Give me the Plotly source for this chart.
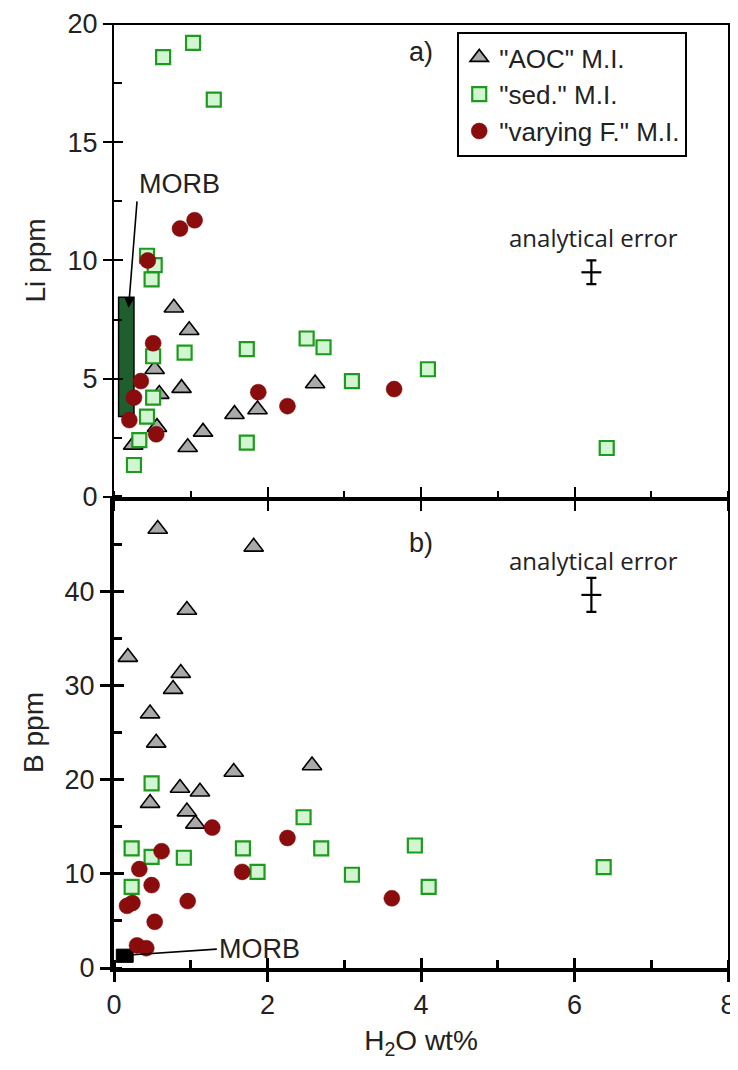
import plotly.graph_objects as go

# panel a) Li ppm vs H2O wt%
aoc_h2o_a = [0.78, 0.98, 0.53, 0.59, 0.88, 0.56, 0.25, 0.96, 1.16, 1.57, 1.87, 2.62]
aoc_li = [8.0, 7.05, 5.4, 4.35, 4.6, 2.95, 2.2, 2.1, 2.75, 3.5, 3.7, 4.8]
sed_h2o_a = [0.64, 1.03, 1.30, 0.43, 0.53, 0.49, 0.92, 0.51, 1.73, 2.51, 2.73, 0.51,
             0.43, 0.33, 0.26, 1.73, 3.10, 4.09, 6.42]
sed_li = [18.6, 19.2, 16.8, 10.2, 9.8, 9.2, 6.1, 5.95, 6.25, 6.7, 6.33, 4.2,
          3.4, 2.4, 1.35, 2.3, 4.9, 5.4, 2.07]
varf_h2o_a = [0.86, 1.05, 0.44, 0.51, 0.35, 0.26, 0.20, 0.55, 1.88, 2.26, 3.65]
varf_li = [11.35, 11.7, 10.0, 6.5, 4.9, 4.2, 3.25, 2.65, 4.43, 3.84, 4.56]

# panel b) B ppm vs H2O wt%
aoc_h2o_b = [0.57, 1.82, 0.95, 0.18, 0.87, 0.77, 0.47, 0.55, 1.56, 2.58, 0.86, 1.12,
             0.47, 0.95, 1.06]
aoc_b = [46.6, 44.7, 38.0, 33.0, 31.3, 29.6, 27.0, 23.9, 20.8, 21.5, 19.1, 18.7,
         17.5, 16.6, 15.3]
sed_h2o_b = [0.49, 0.23, 0.49, 0.91, 1.68, 1.87, 2.47, 2.70, 0.23, 3.10, 3.92, 4.10, 6.38]
sed_b = [19.6, 12.7, 11.8, 11.7, 12.7, 10.2, 16.0, 12.7, 8.6, 9.9, 13.0, 8.6, 10.7]
varf_h2o_b = [1.28, 2.26, 0.62, 0.33, 1.67, 0.49, 0.24, 0.17, 0.96, 0.53, 0.30, 0.42, 3.62]
varf_b = [14.9, 13.8, 12.4, 10.5, 10.2, 8.8, 6.9, 6.6, 7.1, 4.9, 2.4, 2.1, 7.4]

# MORB fields
morb_h2o_a = [0.06, 0.26]
morb_li = [3.4, 8.45]
morb_h2o_b = [0.03, 0.25]
morb_b = [0.6, 2.0]

# analytical error crosses
err_h2o = [6.22]
err_li = [9.5]
err_b = [39.6]
err_dx = 0.13
err_dli = 0.5
err_db = 1.8

font = "Liberation Sans, Arial, sans-serif"
ink = "#222"
aoc_style = dict(symbol="triangle-up", size=17, color="#a9a9a9", line=dict(color="black", width=1.6))
sed_style = dict(symbol="square", size=14, color="#d2f5d2", line=dict(color="#1e9a1e", width=2.2))
varf_style = dict(symbol="circle", size=16, color="#8a0c0c", line=dict(color="#7a0a0a", width=0.5))

fig = go.Figure()

fig.add_trace(go.Scatter(x=aoc_h2o_a, y=aoc_li, mode="markers", marker=aoc_style,
                         name='"AOC" M.I.', xaxis="x", yaxis="y"))
fig.add_trace(go.Scatter(x=sed_h2o_a, y=sed_li, mode="markers", marker=sed_style,
                         name='"sed." M.I.', xaxis="x", yaxis="y"))
fig.add_trace(go.Scatter(x=varf_h2o_a, y=varf_li, mode="markers", marker=varf_style,
                         name='"varying F." M.I.', xaxis="x", yaxis="y"))

fig.add_trace(go.Scatter(x=aoc_h2o_b, y=aoc_b, mode="markers", marker=aoc_style,
                         showlegend=False, xaxis="x2", yaxis="y2"))
fig.add_trace(go.Scatter(x=sed_h2o_b, y=sed_b, mode="markers", marker=sed_style,
                         showlegend=False, xaxis="x2", yaxis="y2"))
fig.add_trace(go.Scatter(x=varf_h2o_b, y=varf_b, mode="markers", marker=varf_style,
                         showlegend=False, xaxis="x2", yaxis="y2"))

# error crosses
for xa, ya, yv, dy in [("x", "y", err_li, err_dli), ("x2", "y2", err_b, err_db)]:
    fig.add_trace(go.Scatter(
        x=err_h2o, y=yv, mode="markers", marker=dict(size=1, color="black"),
        error_x=dict(type="constant", value=err_dx, color="black", thickness=2.2, width=0),
        error_y=dict(type="constant", value=dy, color="black", thickness=2.2, width=5),
        showlegend=False, hoverinfo="skip", xaxis=xa, yaxis=ya))

# dummy traces so the overlay axes (inner half of crossing ticks) get drawn
for xa, ya in [("x3", "y"), ("x4", "y2"), ("x", "y3"), ("x2", "y4")]:
    fig.add_trace(go.Scatter(x=[], y=[], xaxis=xa, yaxis=ya, showlegend=False, hoverinfo="skip"))

# MORB boxes
fig.add_shape(type="rect", xref="x", yref="y", layer="below",
              x0=morb_h2o_a[0], x1=morb_h2o_a[1], y0=morb_li[0], y1=morb_li[1],
              fillcolor="#1f5f2f", line=dict(color="black", width=1.5))
fig.add_shape(type="rect", xref="x2", yref="y2", layer="below",
              x0=morb_h2o_b[0], x1=morb_h2o_b[1], y0=morb_b[0], y1=morb_b[1],
              fillcolor="black", line=dict(color="black", width=1))

# thin top frame line of panel a
fig.add_shape(type="line", xref="x domain", yref="y domain", x0=-0.018, x1=1.03, y0=1, y1=1,
              line=dict(color="black", width=2))

big = dict(family=font, size=27, color=ink)
ann_font = dict(family="Open Sans, sans-serif", size=24, color=ink)

annotations = [
    # MORB label with arrow to the Li field
    dict(x=0.19, y=8.0, xref="x", yref="y", ax=0.30, ay=12.5, axref="x", ayref="y",
         text="MORB", xanchor="left", yanchor="bottom", font=big,
         showarrow=True, arrowhead=2, arrowsize=1.3, arrowwidth=1.6, arrowcolor="black"),
    # MORB label with leader line to the B field
    dict(x=0.25, y=1.4, xref="x2", yref="y2", ax=1.34, ay=2.0, axref="x2", ayref="y2",
         text="MORB", xanchor="left", yanchor="middle", font=big,
         showarrow=True, arrowhead=0, arrowwidth=1.6, arrowcolor="black"),
    dict(x=6.25, y=10.97, xref="x", yref="y", text="analytical error", showarrow=False, font=ann_font),
    dict(x=6.25, y=43.3, xref="x2", yref="y2", text="analytical error", showarrow=False, font=ann_font),
    dict(x=4.0, y=18.8, xref="x", yref="y", text="a)", showarrow=False, font=big),
    dict(x=4.0, y=45.1, xref="x2", yref="y2", text="b)", showarrow=False, font=big),
]

split = 0.499
common_x = dict(range=[0, 8], dtick=2, showgrid=False, zeroline=False, automargin=False)
tick_font = dict(family=font, size=27, color=ink)
title_font = dict(family=font, size=28, color=ink)

# the page adds an 8px body margin, so the figure is sized to fit inside it
fig.update_layout(
    width=730, height=1054,
    margin=dict(l=106, r=10, t=16, b=94),
    paper_bgcolor="white", plot_bgcolor="white",
    font=dict(family=font, size=26, color=ink),
    showlegend=True,
    legend=dict(x=0.559, y=0.9915, xanchor="left", yanchor="top",
                bgcolor="white", bordercolor="black", borderwidth=2,
                font=dict(family=font, size=26, color=ink), tracegroupgap=0),
    annotations=annotations,
    xaxis=dict(**common_x, anchor="y", showline=True, linewidth=4, linecolor="black",
               ticks="outside", ticklen=10, tickwidth=2, tickcolor="black", showticklabels=False,
               minor=dict(ticks="inside", dtick=1, ticklen=6, tickwidth=2, tickcolor="black")),
    xaxis3=dict(**common_x, overlaying="x", anchor="y", showline=False,
                ticks="inside", ticklen=10, tickwidth=2, tickcolor="black", showticklabels=False),
    yaxis=dict(domain=[split, 1], range=[0, 20], dtick=5, anchor="x", showgrid=False,
               zeroline=False, automargin=False,
               showline=True, linewidth=2, linecolor="black", mirror=True,
               ticks="outside", ticklen=9, tickwidth=2, tickcolor="black", tickfont=tick_font,
               title=dict(text="Li ppm", font=title_font, standoff=14),
               minor=dict(ticks="inside", dtick=2.5, ticklen=8, tickwidth=2, tickcolor="black")),
    yaxis3=dict(domain=[split, 1], range=[0, 20], dtick=5, overlaying="y", anchor="x", side="left",
                showgrid=False, zeroline=False, showline=False, showticklabels=False, automargin=False,
                ticks="inside", ticklen=9, tickwidth=2, tickcolor="black"),
    xaxis2=dict(**common_x, anchor="y2", showline=True, linewidth=4, linecolor="black",
                ticks="outside", ticklen=10, tickwidth=2.5, tickcolor="black", tickfont=tick_font,
                title=dict(text="H<sub>2</sub>O wt%", font=title_font, standoff=12),
                minor=dict(ticks="inside", dtick=1, ticklen=8, tickwidth=2.5, tickcolor="black")),
    xaxis4=dict(**common_x, overlaying="x2", anchor="y2", showline=False,
                ticks="inside", ticklen=10, tickwidth=2.5, tickcolor="black", showticklabels=False),
    yaxis2=dict(domain=[0, split], range=[0, 50], tickvals=[0, 10, 20, 30, 40], anchor="x2",
                showgrid=False, zeroline=False, automargin=False,
                showline=True, linewidth=4, linecolor="black",
                mirror=True, ticks="outside", ticklen=10, tickwidth=2.5, tickcolor="black",
                tickfont=tick_font,
                title=dict(text="B ppm", font=title_font, standoff=14),
                minor=dict(ticks="inside", dtick=5, ticklen=8, tickwidth=2.5, tickcolor="black")),
    yaxis4=dict(domain=[0, split], range=[0, 50], tickvals=[0, 10, 20, 30, 40], overlaying="y2",
                anchor="x2", side="left", showgrid=False, zeroline=False, showline=False,
                automargin=False,
                showticklabels=False, ticks="inside", ticklen=10, tickwidth=2.5, tickcolor="black"),
)

fig.write_html("out.html")
